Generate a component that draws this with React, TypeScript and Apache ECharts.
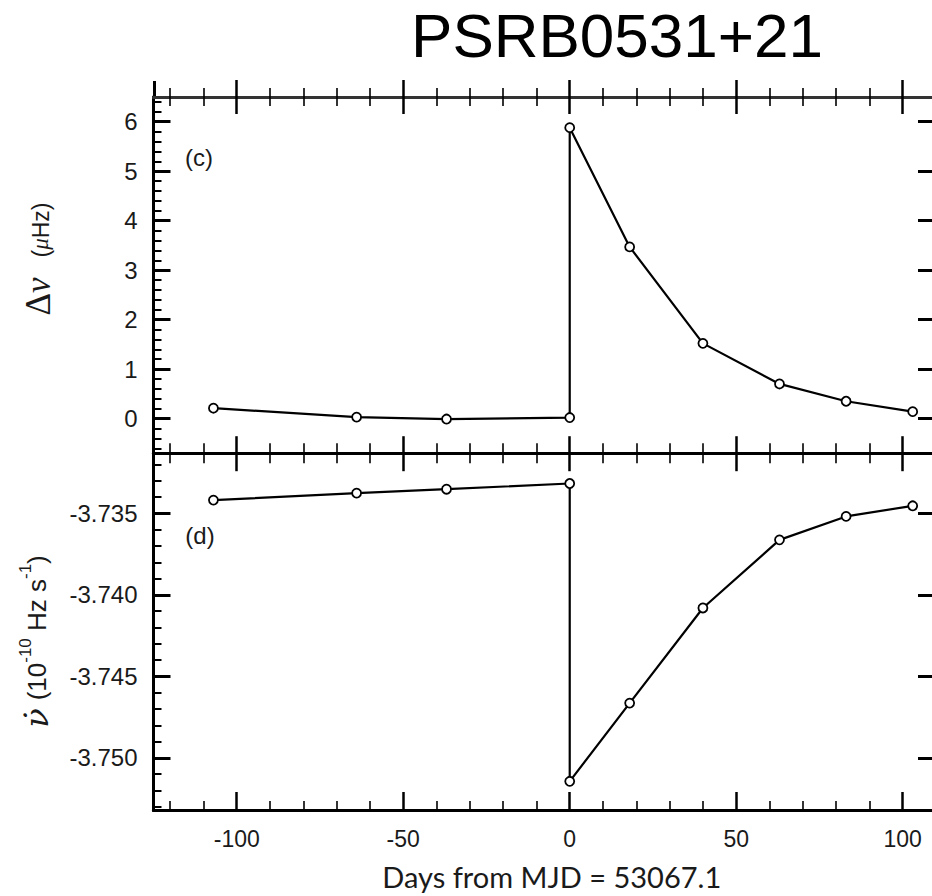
import React, { useEffect, useRef } from "react";
import * as echarts from "echarts";

// ---- data ----
const dnuDays = [-107, -64, -37, 0, 0, 18, 40, 63, 83, 103];
const dnuValues = [0.21, 0.03, -0.01, 0.02, 5.88, 3.47, 1.52, 0.7, 0.35, 0.14];

const nudotDays = [-107, -64, -37, 0, 0, 18, 40, 63, 83, 103];
const nudotValues = [-3.73418, -3.73375, -3.73351, -3.73316, -3.75144, -3.74664, -3.7408, -3.73662, -3.73518, -3.73453];

// ---- tick positions ----
const xMajorTicks = [-100, -50, 0, 50, 100];
const xMinorTicks = [-120, -110, -90, -80, -70, -60, -40, -30, -20, -10, 10, 20, 30, 40, 60, 70, 80, 90, 110];
const y1MajorTicks = [0, 1, 2, 3, 4, 5, 6];
const y1MinorTicks = [-0.6, -0.4, -0.2, 0.2, 0.4, 0.6, 0.8, 1.2, 1.4, 1.6, 1.8, 2.2, 2.4, 2.6, 2.8, 3.2, 3.4, 3.6, 3.8, 4.2, 4.4, 4.6, 4.8, 5.2, 5.4, 5.6, 5.8, 6.2, 6.4];
const y2MajorTicks = [-3.75, -3.745, -3.74, -3.735];
const y2MinorTicks = [-3.753, -3.752, -3.751, -3.749, -3.748, -3.747, -3.746, -3.744, -3.743, -3.742, -3.741, -3.739, -3.738, -3.737, -3.736, -3.734, -3.733, -3.732];

const X_MIN = -125, X_MAX = 110;
const Y1_MIN = -0.7, Y1_MAX = 6.5;
const Y2_MIN = -3.7532, Y2_MAX = -3.7313;

const titleText = "PSRB0531+21";
const xAxisTitle = "Days from MJD = 53067.1";

// ---- layout ----
const W = 960, H = 896;
const LEFT = 153.5, RIGHT_EDGE = 936, TOP = 97, MID = 453.2, BOTTOM = 810;

const LABEL_FONT = "'Liberation Sans', Arial, Helvetica, sans-serif";
const SERIF = "'Liberation Serif', 'DejaVu Serif', serif";

function axis(o: any) {
  return {
    type: "value",
    gridIndex: o.grid,
    position: o.pos,
    min: o.min,
    max: o.max,
    axisLine: { show: true, onZero: false, lineStyle: { color: o.lc ?? "#000", width: o.lw ?? 2.5 } },
    axisTick: {
      show: true,
      inside: o.inside,
      length: o.len,
      customValues: o.ticks,
      lineStyle: { color: "#000", width: o.tw ?? 2 },
    },
    axisLabel: o.labels
      ? {
          show: true,
          customValues: o.ticks,
          fontSize: o.fs ?? 24,
          fontFamily: LABEL_FONT,
          color: "#1a1a1a",
          margin: o.margin ?? 16,
          formatter: o.fmt,
        }
      : { show: false },
    splitLine: { show: false },
    minorTick: { show: false },
    ...(o.extra || {}),
  };
}

export default function App() {
  const ref = useRef<HTMLDivElement>(null);
  useEffect(() => {
    if (!ref.current) return;
    const chart = echarts.init(ref.current, null, { renderer: "svg", width: W, height: H });

    const xAxes = [
      // 0: top panel bottom edge (separator), ticks up
      axis({ grid: 0, pos: "bottom", min: X_MIN, max: X_MAX, inside: true, len: 17, ticks: xMajorTicks, tw: 2.5, lw: 2.5 }),
      // 1: bottom panel bottom edge with labels
      axis({
        grid: 1, pos: "bottom", min: X_MIN, max: X_MAX, inside: true, len: 18, ticks: xMajorTicks, tw: 2.5, lw: 3,
        labels: true, fs: 23, margin: 17, fmt: (v: number) => String(v),
        extra: {
          name: xAxisTitle,
          nameLocation: "middle",
          nameGap: 52,
          nameTextStyle: { fontFamily: "Lato, 'Open Sans', sans-serif", fontSize: 29, color: "#1a1a1a", padding: [0, 0, 0, 14] },
        },
      }),
      axis({ grid: 0, pos: "bottom", min: X_MIN, max: X_MAX, inside: true, len: 10, ticks: xMinorTicks, tw: 1.6 }),
      axis({ grid: 0, pos: "top", min: X_MIN, max: X_MAX, inside: true, len: 17, ticks: xMajorTicks, tw: 2.5, lc: "#333" }),
      axis({ grid: 0, pos: "top", min: X_MIN, max: X_MAX, inside: false, len: 17, ticks: xMajorTicks, tw: 2.5, lc: "#333" }),
      axis({ grid: 0, pos: "top", min: X_MIN, max: X_MAX, inside: true, len: 9, ticks: xMinorTicks, tw: 1.6, lc: "#333" }),
      axis({ grid: 0, pos: "top", min: X_MIN, max: X_MAX, inside: false, len: 9, ticks: xMinorTicks, tw: 1.6, lc: "#333" }),
      axis({ grid: 1, pos: "top", min: X_MIN, max: X_MAX, inside: true, len: 18, ticks: xMajorTicks, tw: 2.5 }),
      axis({ grid: 1, pos: "top", min: X_MIN, max: X_MAX, inside: true, len: 10, ticks: xMinorTicks, tw: 1.6 }),
      axis({ grid: 1, pos: "bottom", min: X_MIN, max: X_MAX, inside: true, len: 9, ticks: xMinorTicks, tw: 1.6, lw: 3 }),
    ];

    const yAxes = [
      axis({ grid: 0, pos: "left", min: Y1_MIN, max: Y1_MAX, inside: true, len: 17, ticks: y1MajorTicks, tw: 3, lw: 3, labels: true, margin: 16, fmt: (v: number) => String(Math.round(v)) }),
      axis({ grid: 1, pos: "left", min: Y2_MIN, max: Y2_MAX, inside: true, len: 17, ticks: y2MajorTicks, tw: 3, lw: 3, labels: true, margin: 16, fmt: (v: number) => v.toFixed(3) }),
      axis({ grid: 0, pos: "left", min: Y1_MIN, max: Y1_MAX, inside: true, len: 8, ticks: y1MinorTicks, tw: 2, lw: 3 }),
      axis({ grid: 1, pos: "left", min: Y2_MIN, max: Y2_MAX, inside: true, len: 8, ticks: y2MinorTicks, tw: 2, lw: 3 }),
      axis({ grid: 0, pos: "right", min: Y1_MIN, max: Y1_MAX, inside: true, len: 18, ticks: y1MajorTicks, tw: 3, lw: 3 }),
      axis({ grid: 1, pos: "right", min: Y2_MIN, max: Y2_MAX, inside: true, len: 18, ticks: y2MajorTicks, tw: 3, lw: 3 }),
    ];

    const seriesStyle = {
      type: "line",
      symbol: "circle",
      symbolSize: 9,
      lineStyle: { color: "#000", width: 2.2 },
      itemStyle: { color: "#fff", borderColor: "#000", borderWidth: 1.8 },
      z: 10,
      clip: false,
    };

    const centered = { align: "center", verticalAlign: "middle", textAlign: "center", textVerticalAlign: "middle" };
    const ink = "#1a1a1a";

    chart.setOption({
      animation: false,
      backgroundColor: "#fff",
      grid: [
        { left: LEFT, top: TOP, width: RIGHT_EDGE - LEFT, height: MID - TOP },
        { left: LEFT, top: MID, width: RIGHT_EDGE - LEFT, height: BOTTOM - MID },
      ],
      xAxis: xAxes,
      yAxis: yAxes,
      series: [
        { ...seriesStyle, name: "dnu", xAxisIndex: 0, yAxisIndex: 0, data: dnuDays.map((d, i) => [d, dnuValues[i]]) },
        { ...seriesStyle, name: "nudot", xAxisIndex: 1, yAxisIndex: 1, data: nudotDays.map((d, i) => [d, nudotValues[i]]) },
      ],
      graphic: [
        {
          type: "line",
          shape: { x1: 154.5, y1: 81, x2: 154.5, y2: 97 },
          style: { stroke: "#000", lineWidth: 3 },
        },
        {
          type: "text",
          x: 617,
          y: 35,
          style: { text: titleText, fontFamily: LABEL_FONT, fontSize: 62, fill: "#000", ...centered },
        },
        {
          type: "text",
          x: 199,
          y: 157,
          style: { text: "(c)", fontFamily: LABEL_FONT, fontSize: 24, fill: ink, ...centered },
        },
        {
          type: "text",
          x: 200,
          y: 535,
          style: { text: "(d)", fontFamily: LABEL_FONT, fontSize: 24, fill: ink, ...centered },
        },
        {
          type: "text",
          x: 37.5,
          y: 259,
          rotation: Math.PI / 2,
          style: {
            text: "{d|Δ}{n|ν}{g| }{s|(}{m|μ}{s|Hz)}",
            fill: ink,
            ...centered,
            rich: {
              d: { fontFamily: SERIF, fontSize: 35, lineHeight: 37, fill: ink, verticalAlign: "bottom" },
              n: { fontFamily: SERIF, fontStyle: "italic", fontSize: 35, lineHeight: 37, fill: ink, verticalAlign: "bottom" },
              g: { fontSize: 10, width: 20, verticalAlign: "bottom" },
              s: { fontFamily: LABEL_FONT, fontSize: 23, lineHeight: 23, fill: ink, verticalAlign: "bottom", padding: [0, 0, 4, 0] },
              m: { fontFamily: SERIF, fontStyle: "italic", fontSize: 23, lineHeight: 23, fill: ink, verticalAlign: "bottom", padding: [0, 0, 4, 0] },
            },
          },
        },
        {
          type: "text",
          x: 35,
          y: 641.5,
          rotation: Math.PI / 2,
          style: {
            text: "{n|ν\u0307}{g| }{s|(10}{u|-10}{s| Hz s}{u|-1}{s|)}",
            fill: ink,
            ...centered,
            rich: {
              n: { fontFamily: "'DejaVu Serif', serif", fontStyle: "italic", fontSize: 32, lineHeight: 36, fill: ink, verticalAlign: "bottom" },
              g: { fontSize: 10, width: 8, verticalAlign: "bottom" },
              s: { fontFamily: LABEL_FONT, fontSize: 26, lineHeight: 26, fill: ink, verticalAlign: "bottom", padding: [0, 0, 3, 0] },
              u: { fontFamily: LABEL_FONT, fontSize: 17, lineHeight: 17, fill: ink, verticalAlign: "top" },
            },
          },
        },
      ],
    });
    return () => chart.dispose();
  }, []);

  return (
    <div style={{ position: "fixed", left: 0, top: 0, width: 932, height: 896, overflow: "hidden", background: "#fff" }}>
      <div ref={ref} style={{ width: W, height: H }} />
    </div>
  );
}
